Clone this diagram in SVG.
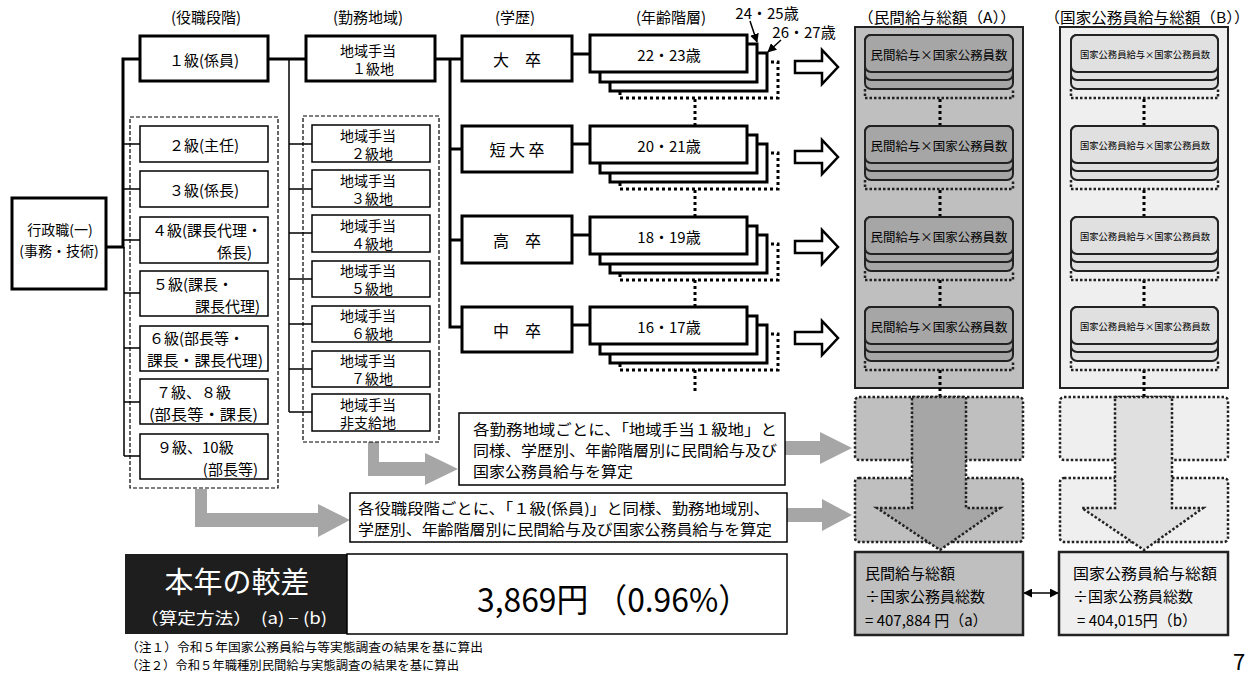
<svg xmlns="http://www.w3.org/2000/svg" width="1255" height="674" viewBox="0 0 1255 674">
<style>
text{font-family:"Noto Sans CJK JP","Noto Sans",sans-serif;fill:#000;dominant-baseline:central}
.c{text-anchor:middle}
.e{text-anchor:end}
.thick{fill:#fff;stroke:#000;stroke-width:3}
.thin{fill:#fff;stroke:#000;stroke-width:1.5}
.dash{fill:none;stroke:#000;stroke-width:1.2;stroke-dasharray:4 2}
.dot{fill:none;stroke:#000;stroke-width:3;stroke-dasharray:3 3}
.dots{fill:none;stroke:#222;stroke-width:2.5;stroke-dasharray:2.5 2}
.cl{fill:none;stroke:#000;stroke-width:3}
.cn{fill:none;stroke:#000;stroke-width:1.5}
.hol{fill:#fff;stroke:#000;stroke-width:2.5;stroke-linejoin:miter}
.gar{fill:#a6a6a6}
.f15{font-size:15px}
.f14{font-size:14px}
.f16{font-size:16px}
.ra{fill:#a6a6a6;stroke:#222;stroke-width:2}
.rb{fill:#e0e0e0;stroke:#222;stroke-width:2}
.agg{stroke:#222;stroke-width:2.5;stroke-dasharray:2.5 2}
</style>
<defs>
<marker id="ah" viewBox="0 0 10 10" refX="9" refY="5" markerWidth="6" markerHeight="6" orient="auto-start-reverse">
<path d="M0,0 L10,5 L0,10 z" fill="#000"/>
</marker>
<g id="agebox">
<rect x="610" y="53" width="157" height="38" class="thick"/>
<rect x="600" y="44" width="157" height="38" class="thick"/>
<rect x="590" y="35" width="157" height="37" class="thick"/>
<path d="M620 92 V98 H778 V62 H770" class="dot"/>
</g>
<g id="stackA">
<rect x="865" y="35" width="148" height="54" rx="6" class="ra"/>
<rect x="865" y="35" width="148" height="45" rx="6" class="ra"/>
<rect x="865" y="35" width="148" height="37" rx="6" class="ra"/>
<path d="M865 89 V98 H1013 V89" class="dots"/>
</g>
<g id="stackB">
<rect x="1071" y="35" width="147" height="54" rx="6" class="rb"/>
<rect x="1071" y="35" width="147" height="45" rx="6" class="rb"/>
<rect x="1071" y="35" width="147" height="37" rx="6" class="rb"/>
<path d="M1071 89 V98 H1218 V89" class="dots"/>
</g>
</defs>

<!-- headers -->
<g id="headers" class="f15">
<text x="206" y="16" class="c">(役職段階)</text>
<text x="368" y="16" class="c">(勤務地域)</text>
<text x="515" y="16" class="c">(学歴)</text>
<text x="671" y="16" class="c">(年齢階層)</text>
<text x="767" y="12" class="c">24・25歳</text>
<text x="804" y="31" class="c">26・27歳</text>
<text x="937" y="16" class="c" textLength="158" lengthAdjust="spacingAndGlyphs">（民間給与総額（A））</text>
<text x="1147" y="16" class="c" textLength="205" lengthAdjust="spacingAndGlyphs">（国家公務員給与総額（B））</text>
</g>

<!-- right panels backgrounds -->
<g id="panelA">
<rect x="855" y="27" width="168" height="361" fill="#bfbfbf" stroke="#222" stroke-width="2"/>
</g>
<g id="panelB">
<rect x="1060" y="27" width="168" height="361" fill="#efefef" stroke="#222" stroke-width="2"/>
</g>

<!-- connectors -->
<g id="connectors">
<path d="M106 247 H123 V59 H140" class="cl"/>
<path d="M124 247 V456" class="cn"/>
<path d="M124 144 H140 M124 189 H140 M124 240 H140 M124 293 H140 M124 348 H140 M124 402 H140 M124 456 H140" class="cn"/>
<path d="M268 59 H306" class="cl"/>
<path d="M289 59 V412" class="cn"/>
<path d="M289 144 H312 M289 189 H312 M289 233 H312 M289 279 H312 M289 324 H312 M289 369 H312 M289 412 H312" class="cn"/>
<path d="M435 59 H462 M450 59 V327 H462 M450 149 H462 M450 240 H462" class="cl"/>
<path d="M572 54 H590 M572 144 H590 M572 235 H590 M572 325 H590" class="cl"/>
<path d="M750 21 L757 42" class="cn" marker-end="url(#ah)"/>
<path d="M781 40 L768 52" class="cn" marker-end="url(#ah)"/>
<path d="M695 99 V126 M695 190 V217 M695 280 V307 M695 370 V393" class="dot"/>
<path d="M940 99 V126 M940 190 V217 M940 280 V307 M940 370 V397" class="dot"/>
<path d="M1144 99 V126 M1144 190 V217 M1144 280 V307 M1144 370 V397" class="dot"/>
<polygon points="795,61 822,61 822,50 838,67 822,84 822,73 795,73" class="hol"/>
<polygon points="795,151 822,151 822,140 838,157 822,174 822,163 795,163" class="hol"/>
<polygon points="795,241 822,241 822,230 838,247 822,264 822,253 795,253" class="hol"/>
<polygon points="795,332 822,332 822,321 838,338 822,355 822,344 795,344" class="hol"/>
<polygon points="195,489 207,489 207,513 318,513 318,504 350,520 318,537 318,527 195,527" class="gar"/>
<polygon points="368,442 379,442 379,462 425,462 425,453 458,469 425,485 425,476 368,476" class="gar"/>
<polygon points="785,441 820,441 820,432 852,448 820,464 820,455 785,455" class="gar"/>
<polygon points="787,508 822,508 822,499 852,515 822,531 822,522 787,522" class="gar"/>
<path d="M1024 593 H1058" class="cn" marker-start="url(#ah)" marker-end="url(#ah)"/>
</g>

<!-- left node -->
<g id="node-gyoseishoku">
<rect x="12" y="198" width="94" height="91" class="thick"/>
<text x="60" y="229" class="c f14">行政職(一)</text>
<text x="59" y="250" class="c f14">(事務・技術)</text>
</g>

<!-- grade column -->
<g id="node-grade1">
<rect x="140" y="36" width="128" height="45" class="thick"/>
<text x="204" y="59" class="c f15">１級(係員)</text>
</g>
<g id="group-grades">
<rect x="130" y="117" width="148" height="371" class="dash"/>
</g>
<g id="node-grade2"><rect x="140" y="126" width="128" height="36" class="thin"/><text x="204" y="144" class="c f15">２級(主任)</text></g>
<g id="node-grade3"><rect x="140" y="171" width="128" height="36" class="thin"/><text x="204" y="189" class="c f15">３級(係長)</text></g>
<g id="node-grade4"><rect x="140" y="217" width="128" height="46" class="thin"/><text x="152" y="229" class="f15">４級(課長代理・</text><text x="252" y="251" class="e f15">係長)</text></g>
<g id="node-grade5"><rect x="140" y="271" width="128" height="45" class="thin"/><text x="153" y="283" class="f15">５級(課長・</text><text x="260" y="305" class="e f15">課長代理)</text></g>
<g id="node-grade6"><rect x="140" y="326" width="128" height="45" class="thin"/><text x="149" y="337" class="f15">６級(部長等・</text><text x="147" y="359" class="f15" textLength="116" lengthAdjust="spacingAndGlyphs">課長・課長代理)</text></g>
<g id="node-grade78"><rect x="140" y="379" width="128" height="45" class="thin"/><text x="156" y="391" class="f15">７級、８級</text><text x="149" y="413" class="f15" textLength="109" lengthAdjust="spacingAndGlyphs">(部長等・課長)</text></g>
<g id="node-grade910"><rect x="140" y="434" width="128" height="45" class="thin"/><text x="157" y="446" class="f15">９級、10級</text><text x="258" y="468" class="e f15">(部長等)</text></g>

<!-- area column -->
<g id="node-area1">
<rect x="306" y="36" width="129" height="45" class="thick"/>
<text x="368" y="50" class="c f14">地域手当</text>
<text x="373" y="68" class="c f14">１級地</text>
</g>
<g id="group-areas"><rect x="303" y="116" width="136" height="326" class="dash"/></g>
<g id="node-area2"><rect x="312" y="125" width="118" height="37" class="thin"/><text x="368" y="135" class="c f14">地域手当</text><text x="372" y="153" class="c f14">２級地</text></g>
<g id="node-area3"><rect x="312" y="170" width="118" height="37" class="thin"/><text x="368" y="180" class="c f14">地域手当</text><text x="372" y="198" class="c f14">３級地</text></g>
<g id="node-area4"><rect x="312" y="215" width="118" height="37" class="thin"/><text x="368" y="225" class="c f14">地域手当</text><text x="372" y="243" class="c f14">４級地</text></g>
<g id="node-area5"><rect x="312" y="261" width="118" height="36" class="thin"/><text x="368" y="270" class="c f14">地域手当</text><text x="372" y="288" class="c f14">５級地</text></g>
<g id="node-area6"><rect x="312" y="306" width="118" height="36" class="thin"/><text x="368" y="315" class="c f14">地域手当</text><text x="372" y="333" class="c f14">６級地</text></g>
<g id="node-area7"><rect x="312" y="351" width="118" height="36" class="thin"/><text x="368" y="360" class="c f14">地域手当</text><text x="372" y="378" class="c f14">７級地</text></g>
<g id="node-area-none"><rect x="312" y="394" width="118" height="37" class="thin"/><text x="368" y="404" class="c f14">地域手当</text><text x="368" y="422" class="c f14">非支給地</text></g>

<!-- education -->
<g id="node-edu-univ"><rect x="462" y="36" width="110" height="45" class="thick"/><text x="517" y="59" class="c f16">大　卒</text></g>
<g id="node-edu-junior"><rect x="462" y="126" width="110" height="46" class="thick"/><text x="517" y="149" class="c f16">短 大 卒</text></g>
<g id="node-edu-high"><rect x="462" y="216" width="110" height="47" class="thick"/><text x="517" y="240" class="c f16">高　卒</text></g>
<g id="node-edu-middle"><rect x="462" y="307" width="110" height="45" class="thick"/><text x="517" y="330" class="c f16">中　卒</text></g>

<!-- age stacks -->
<g id="node-age-1"><use href="#agebox"/><text x="669" y="54" class="c f15">22・23歳</text></g>
<g id="node-age-2" transform="translate(0,91)"><use href="#agebox"/><text x="669" y="54" class="c f15">20・21歳</text></g>
<g id="node-age-3" transform="translate(0,182)"><use href="#agebox"/><text x="669" y="54" class="c f15">18・19歳</text></g>
<g id="node-age-4" transform="translate(0,272)"><use href="#agebox"/><text x="669" y="54" class="c f15">16・17歳</text></g>

<!-- panel A stacks -->
<g id="node-A-1"><use href="#stackA"/><text x="939" y="54" class="c" font-size="12.5" textLength="137" lengthAdjust="spacingAndGlyphs">民間給与×国家公務員数</text></g>
<g id="node-A-2" transform="translate(0,91)"><use href="#stackA"/><text x="939" y="54" class="c" font-size="12.5" textLength="137" lengthAdjust="spacingAndGlyphs">民間給与×国家公務員数</text></g>
<g id="node-A-3" transform="translate(0,182)"><use href="#stackA"/><text x="939" y="54" class="c" font-size="12.5" textLength="137" lengthAdjust="spacingAndGlyphs">民間給与×国家公務員数</text></g>
<g id="node-A-4" transform="translate(0,272)"><use href="#stackA"/><text x="939" y="54" class="c" font-size="12.5" textLength="137" lengthAdjust="spacingAndGlyphs">民間給与×国家公務員数</text></g>

<!-- panel B stacks -->
<g id="node-B-1"><use href="#stackB"/><text x="1145" y="54" class="c" font-size="9.5" textLength="130" lengthAdjust="spacingAndGlyphs">国家公務員給与×国家公務員数</text></g>
<g id="node-B-2" transform="translate(0,91)"><use href="#stackB"/><text x="1145" y="54" class="c" font-size="9.5" textLength="130" lengthAdjust="spacingAndGlyphs">国家公務員給与×国家公務員数</text></g>
<g id="node-B-3" transform="translate(0,182)"><use href="#stackB"/><text x="1145" y="54" class="c" font-size="9.5" textLength="130" lengthAdjust="spacingAndGlyphs">国家公務員給与×国家公務員数</text></g>
<g id="node-B-4" transform="translate(0,272)"><use href="#stackB"/><text x="1145" y="54" class="c" font-size="9.5" textLength="130" lengthAdjust="spacingAndGlyphs">国家公務員給与×国家公務員数</text></g>

<!-- aggregation areas -->
<g id="agg-A">
<rect x="855" y="397" width="168" height="63" rx="4" fill="#bfbfbf" class="agg"/>
<rect x="855" y="478" width="168" height="64" rx="4" fill="#bfbfbf" class="agg"/>
<polygon points="912,397 966,397 966,508 1000,508 940,550 877,508 912,508" fill="#a6a6a6" class="agg"/>
</g>
<g id="agg-B">
<rect x="1060" y="397" width="168" height="63" rx="4" fill="#efefef" class="agg"/>
<rect x="1060" y="478" width="168" height="64" rx="4" fill="#efefef" class="agg"/>
<polygon points="1115,397 1172,397 1172,508 1203,508 1144,550 1082,508 1115,508" fill="#e0e0e0" class="agg"/>
</g>

<!-- result boxes -->
<g id="node-resultA">
<rect x="855" y="552" width="168" height="83" fill="#bfbfbf" stroke="#222" stroke-width="2.5"/>
<text x="865" y="572" class="f15">民間給与総額</text>
<text x="865" y="595" class="f15">÷国家公務員総数</text>
<text x="865" y="619" class="f15">= 407,884 円（a）</text>
</g>
<g id="node-resultB">
<rect x="1059" y="552" width="169" height="83" fill="#efefef" stroke="#222" stroke-width="2.5"/>
<text x="1073" y="572" class="f15" textLength="144" lengthAdjust="spacingAndGlyphs">国家公務員給与総額</text>
<text x="1073" y="595" class="f15">÷国家公務員総数</text>
<text x="1077" y="619" class="f15">= 404,015円（b）</text>
</g>

<!-- process notes -->
<g id="note-area">
<rect x="459" y="413" width="326" height="72" class="thin"/>
<text x="473" y="428" class="f15" textLength="304" lengthAdjust="spacingAndGlyphs">各勤務地域ごとに、「地域手当１級地」と</text>
<text x="473" y="449" class="f15" textLength="304" lengthAdjust="spacingAndGlyphs">同様、学歴別、年齢階層別に民間給与及び</text>
<text x="473" y="470" class="f15" textLength="160" lengthAdjust="spacingAndGlyphs">国家公務員給与を算定</text>
</g>
<g id="note-grade">
<rect x="350" y="493" width="437" height="49" class="thin"/>
<text x="358" y="507" class="f15" textLength="412" lengthAdjust="spacingAndGlyphs">各役職段階ごとに、「１級(係員)」と同様、勤務地域別、</text>
<text x="358" y="528" class="f15" textLength="414" lengthAdjust="spacingAndGlyphs">学歴別、年齢階層別に民間給与及び国家公務員給与を算定</text>
</g>

<!-- bottom summary -->
<g id="summary">
<rect x="125" y="554" width="222" height="80" fill="#1e1e1e"/>
<text x="237" y="580" class="c" font-size="29" style="fill:#fff">本年の較差</text>
<text x="140" y="617" font-size="16" style="fill:#fff" textLength="187" lengthAdjust="spacingAndGlyphs">（算定方法）　(a) − (b)</text>
<rect x="347" y="554" width="440" height="80" fill="#fff" stroke="#000" stroke-width="1.5"/>
<text x="477" y="598" font-size="33" textLength="273" lengthAdjust="spacingAndGlyphs">3,869円 （0.96%）</text>
</g>

<g id="footnotes">
<text x="126" y="647" font-size="12.2" textLength="357" lengthAdjust="spacingAndGlyphs">（注１）令和５年国家公務員給与等実態調査の結果を基に算出</text>
<text x="126" y="665" font-size="12.2" textLength="333" lengthAdjust="spacingAndGlyphs">（注２）令和５年職種別民間給与実態調査の結果を基に算出</text>
<text x="1239" y="660" class="c" font-size="22">7</text>
</g>
</svg>
